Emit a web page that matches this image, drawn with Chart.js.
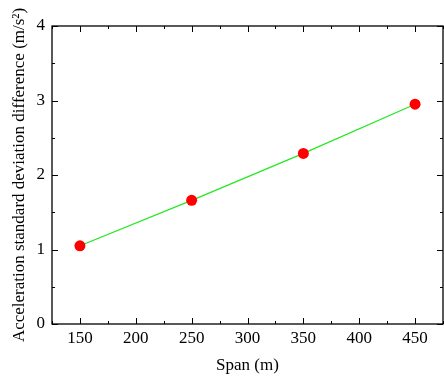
<!DOCTYPE html>
<html>
<head>
<meta charset="utf-8">
<script src="https://cdn.jsdelivr.net/npm/chart.js@4.4.0/dist/chart.umd.min.js"></script>
<style>
  html, body { margin: 0; padding: 0; background: #fff; }
  #wrap { width: 444px; height: 377px; }
</style>
</head>
<body>
<div id="wrap"><canvas id="c"></canvas></div>
<script>
// datos
const spans = [150, 250, 350, 450];
const accDiff = [1.05, 1.66, 2.29, 2.95];
const xTicks = [150, 200, 250, 300, 350, 400, 450];
const yTicks = [0, 1, 2, 3, 4];

const FONT = 'Liberation Serif, Times New Roman, serif';

// marco y marcas hacia dentro (mayores y menores), en los cuatro lados
const framePlugin = {
  id: 'frame',
  afterDraw(chart) {
    const { ctx, chartArea: a, scales: { x, y } } = chart;
    ctx.save();
    ctx.strokeStyle = '#000';
    ctx.lineWidth = 1.3;
    ctx.strokeRect(a.left, a.top, a.right - a.left, a.bottom - a.top);
    ctx.lineWidth = 1;
    ctx.beginPath();
    for (let v = 125; v <= 475; v += 25) {
      const px = Math.round(x.getPixelForValue(v)) + 0.5;
      const len = v % 50 === 0 ? 6 : 3;
      ctx.moveTo(px, a.bottom); ctx.lineTo(px, a.bottom - len);
      ctx.moveTo(px, a.top); ctx.lineTo(px, a.top + len);
    }
    for (let v = 0; v <= 4; v += 0.5) {
      const py = Math.round(y.getPixelForValue(v)) + 0.5;
      const len = Number.isInteger(v) ? 6 : 3;
      ctx.moveTo(a.left, py); ctx.lineTo(a.left + len, py);
      ctx.moveTo(a.right, py); ctx.lineTo(a.right - len, py);
    }
    ctx.stroke();
    ctx.restore();
  }
};

new Chart(document.getElementById('c'), {
  type: 'scatter',
  data: {
    datasets: [{
      data: spans.map((s, i) => ({ x: s, y: accDiff[i] })),
      showLine: true,
      borderColor: '#22e822',
      borderWidth: 1.2,
      pointBackgroundColor: '#ff0000',
      pointBorderColor: '#ff0000',
      pointRadius: 5.5,
      pointBorderWidth: 0
    }]
  },
  options: {
    responsive: true,
    maintainAspectRatio: false,
    animation: false,
    layout: { autoPadding: false, padding: { top: 26, right: 1, left: 0, bottom: 0 } },
    plugins: { legend: { display: false }, tooltip: { enabled: false } },
    scales: {
      x: {
        type: 'linear',
        min: 125,
        max: 475,
        afterBuildTicks: s => { s.ticks = xTicks.map(v => ({ value: v })); },
        afterFit: s => { s.height = 53; s.paddingLeft = 0; s.paddingRight = 0; },
        grid: { display: false, drawTicks: false },
        border: { display: false },
        ticks: { color: '#000', padding: 4, font: { family: FONT, size: 17 } },
        title: { display: true, text: 'Span (m)', color: '#000', padding: { top: 0, bottom: 1 }, font: { family: FONT, size: 17 } }
      },
      y: {
        min: 0,
        max: 4,
        afterBuildTicks: s => { s.ticks = yTicks.map(v => ({ value: v })); },
        afterFit: s => { s.width = 52; s.paddingTop = 0; s.paddingBottom = 0; },
        grid: { display: false, drawTicks: false },
        border: { display: false },
        ticks: { color: '#000', padding: 7, font: { family: FONT, size: 17 } },
        title: { display: true, text: 'Acceleration standard deviation difference (m/s\u00B2)', color: '#000', padding: { top: 9, bottom: 0 }, font: { family: FONT, size: 17 } }
      }
    }
  },
  plugins: [framePlugin]
});
</script>
</body>
</html>
